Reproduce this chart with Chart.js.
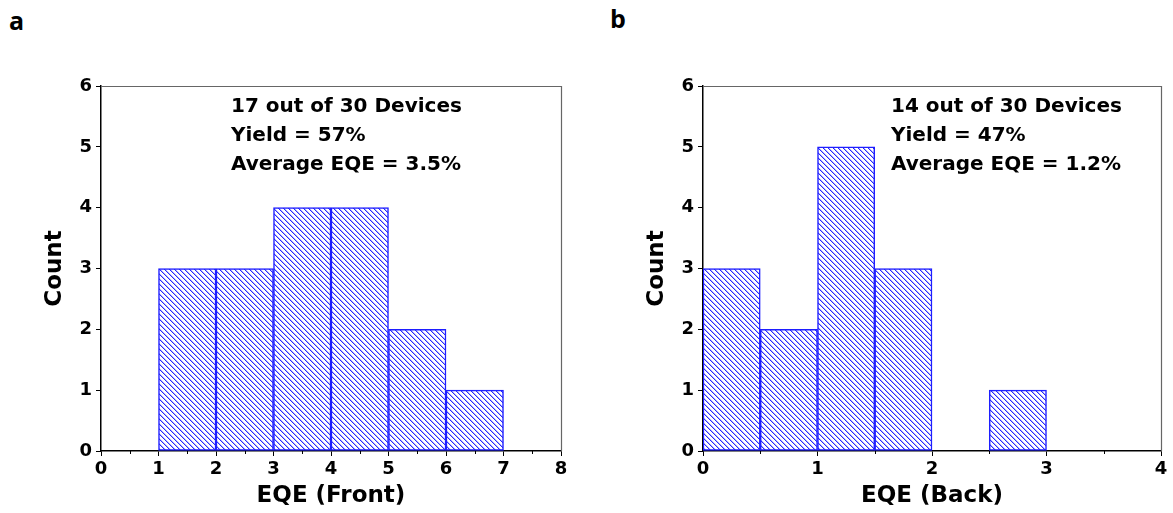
<!DOCTYPE html>
<html>
<head>
<meta charset="utf-8">
<script src="https://cdn.jsdelivr.net/npm/chart.js@4.4.0/dist/chart.umd.min.js"></script>
<style>
  body { margin:0; background:#fff; width:1173px; height:513px; position:relative; overflow:hidden; }
  canvas { position:absolute; top:0; }
  .tag { position:absolute; font-family:"Open Sans"; font-weight:bold; font-size:25px; color:#000; }
</style>
</head>
<body>
<div class="tag" style="left:9px;top:3px;">a</div>
<div class="tag" style="left:610px;top:1px;">b</div>
<canvas id="front" width="580" height="513" style="left:0px"></canvas>
<canvas id="back" width="573" height="513" style="left:600px"></canvas>
<script>
// histogram bins (edges) and counts
var frontEdges = [1, 2, 3, 4, 5, 6, 7];
var frontCounts = [3, 3, 4, 4, 2, 1];
var backEdges = [0, 0.5, 1, 1.5, 2, 2.5, 3];
var backCounts = [3, 2, 5, 3, 0, 1];
var countTicks = [0, 1, 2, 3, 4, 5, 6];
var frontNote = ['17 out of 30 Devices', 'Yield = 57%', 'Average EQE = 3.5%'];
var backNote = ['14 out of 30 Devices', 'Yield = 47%', 'Average EQE = 1.2%'];

var FONT = 'DejaVu Sans';
var BLUE = 'rgb(30,30,255)';

function hatch() {
  var c = document.createElement('canvas');
  c.width = 5; c.height = 5;
  var g = c.getContext('2d');
  g.fillStyle = '#fff';
  g.fillRect(0, 0, 5, 5);
  for (var i = 0; i < 5; i++) {
    g.fillStyle = 'rgb(40,40,255)';
    g.fillRect(i, i, 1, 1);
    g.fillStyle = 'rgba(80,80,255,0.45)';
    g.fillRect((i + 1) % 5, i, 1, 1);
  }
  return g.createPattern(c, 'repeat');
}

function toPoints(edges, counts) {
  var pts = [];
  for (var i = 0; i < counts.length; i++) {
    pts.push({x: (edges[i] + edges[i + 1]) / 2, y: counts[i]});
  }
  return pts;
}

// frame, minor ticks and the text block
var extras = {
  id: 'extras',
  afterDraw: function(chart, args, opts) {
    var ctx = chart.ctx, a = chart.chartArea, xs = chart.scales.x;
    ctx.save();
    ctx.strokeStyle = '#666';
    ctx.lineWidth = 1.2;
    ctx.beginPath();
    ctx.moveTo(a.left, a.top + 0.5);
    ctx.lineTo(a.right + 0.5, a.top + 0.5);
    ctx.lineTo(a.right + 0.5, a.bottom);
    ctx.stroke();
    ctx.strokeStyle = '#000';
    ctx.lineWidth = 1;
    for (var v = xs.min + opts.minor; v < xs.max; v += opts.minor * 2) {
      var px = Math.round(xs.getPixelForValue(v)) + 0.5;
      ctx.beginPath();
      ctx.moveTo(px, a.bottom);
      ctx.lineTo(px, a.bottom + 3);
      ctx.stroke();
    }
    ctx.fillStyle = '#000';
    ctx.font = 'bold 20px "' + FONT + '"';
    ctx.textBaseline = 'alphabetic';
    opts.lines.forEach(function(t, i) {
      ctx.fillText(t, a.left + opts.dx, 112 + i * 29);
    });
    ctx.restore();
  }
};

function makeChart(id, edges, counts, xmax, yWidth, padRight, title, note, dx, minor) {
  return new Chart(document.getElementById(id), {
    type: 'bar',
    data: {
      datasets: [{
        data: toPoints(edges, counts),
        backgroundColor: hatch(),
        borderColor: BLUE,
        borderWidth: 1.5,
        borderSkipped: false,
        barPercentage: 1,
        categoryPercentage: 1
      }]
    },
    options: {
      responsive: false,
      animation: false,
      layout: {padding: {top: 86, right: padRight, left: 0, bottom: 0}},
      plugins: {
        legend: {display: false},
        tooltip: {enabled: false},
        extras: {lines: note, dx: dx, minor: minor}
      },
      scales: {
        x: {
          type: 'linear', min: 0, max: xmax, offset: false,
          afterFit: function(s) { s.height = 62; },
          ticks: {stepSize: 1, color: '#000', padding: 3, font: {family: FONT, weight: 'bold', size: 18}},
          grid: {drawOnChartArea: false, offset: false, tickLength: 5, color: '#000'},
          border: {color: '#000', width: 1.5},
          title: {display: true, text: title, color: '#000', padding: {top: 0, bottom: 3},
                  font: {family: FONT, weight: 'bold', size: 23}}
        },
        y: {
          min: 0, max: 6,
          afterFit: function(s) { s.width = yWidth; },
          afterBuildTicks: function(s) { s.ticks = countTicks.map(function(v) { return {value: v}; }); },
          ticks: {color: '#000', padding: 4, font: {family: FONT, weight: 'bold', size: 18}},
          grid: {drawOnChartArea: false, tickLength: 5, color: '#000'},
          border: {color: '#000', width: 1.5},
          title: {display: true, text: 'Count', color: '#000', padding: {top: yWidth - 60, bottom: 0},
                  font: {family: FONT, weight: 'bold', size: 23}}
        }
      }
    },
    plugins: [extras]
  });
}

makeChart('front', frontEdges, frontCounts, 8, 101, 19, 'EQE (Front)', frontNote, 130, 0.5);
makeChart('back', backEdges, backCounts, 4, 103, 12, 'EQE (Back)', backNote, 188, 0.5);
</script>
</body>
</html>
